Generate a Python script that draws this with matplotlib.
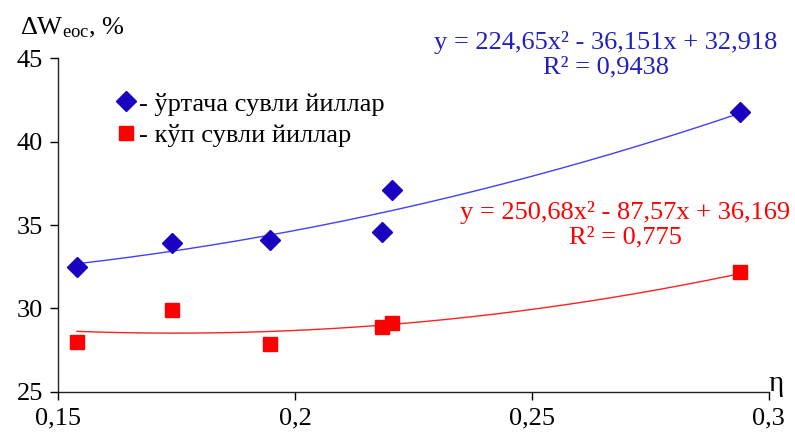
import numpy as np
import matplotlib
matplotlib.use('Agg')
import matplotlib.pyplot as plt

plt.rcParams['font.family'] = ['Liberation Serif', 'DejaVu Serif']
plt.rcParams['mathtext.fontset'] = 'custom'
plt.rcParams['mathtext.rm'] = 'Liberation Serif'
plt.rcParams['mathtext.it'] = 'Liberation Serif:italic'

# данные (читаются с графика)
eta = [0.154, 0.174, 0.1947, 0.2184, 0.2205, 0.2939]
dw_mid = [32.5, 33.9, 34.1, 34.6, 37.1, 41.8]
dw_wet = [28.0, 29.9, 27.9, 28.9, 29.1, 32.2]

# коэффициенты трендов
coef_mid = [224.65, -36.151, 32.918]
coef_wet = [250.68, -87.57, 36.169]

lbl_mid = '- ўртача сувли йиллар'
lbl_wet = '- кўп сувли йиллар'
eq_mid = 'y = 224,65x² - 36,151x + 32,918\nR² = 0,9438'
eq_wet = 'y = 250,68x² - 87,57x + 36,169\nR² = 0,775'

xticks = [0.15, 0.2, 0.25, 0.3]
xticklabels = ['0,15', '0,2', '0,25', '0,3']
yticks = [25, 30, 35, 40, 45]

fs = 19

fig = plt.figure(figsize=(7.95, 4.34), dpi=100)
ax = fig.add_axes([0.073, 0.097, 0.894, 0.769])

xs = np.linspace(min(eta), max(eta), 200)
ax.plot(xs, np.polyval(coef_mid, xs), color='#4040ff', lw=1.0)
ax.plot(xs, np.polyval(coef_wet, xs), color='#ff2020', lw=1.0)

ax.plot(eta, dw_mid, 'D', color='#1a00c0', ms=10, ls='none', label=lbl_mid)
ax.plot(eta, dw_wet, 's', color='#ff0000', ms=10, ls='none', label=lbl_wet)

ax.set_xlim(0.15, 0.3)
ax.set_ylim(25, 45)
ax.set_xticks(xticks)
ax.set_xticklabels(xticklabels)
ax.set_yticks(yticks)
ax.tick_params(labelsize=fs, direction='out', length=6, width=1, pad=5)

for s in ['top', 'right']:
    ax.spines[s].set_visible(False)
for s in ['left', 'bottom']:
    ax.spines[s].set_linewidth(1)
    ax.spines[s].set_color('#222222')

leg = ax.legend(loc='upper left', bbox_to_anchor=(0.062, 0.93), frameon=False,
                fontsize=fs, handletextpad=0.0, handlelength=1.0,
                labelspacing=0.3, borderaxespad=0)

ax.text(0.771, 1.009, eq_mid, transform=ax.transAxes, ha='center', va='center',
        fontsize=fs, color='#2020c0', linespacing=1.15)
ax.text(0.798, 0.50, eq_wet, transform=ax.transAxes, ha='center', va='center',
        fontsize=fs, color='#ff0000', linespacing=1.15)

fig.text(0.025, 0.935, r'$\Delta$W$_{\rm eoc}$, %', fontsize=fs, ha='left', va='center')
fig.text(0.976, 0.115, 'η', fontsize=21, ha='center', va='center')

fig.savefig('out.png', dpi=100)
